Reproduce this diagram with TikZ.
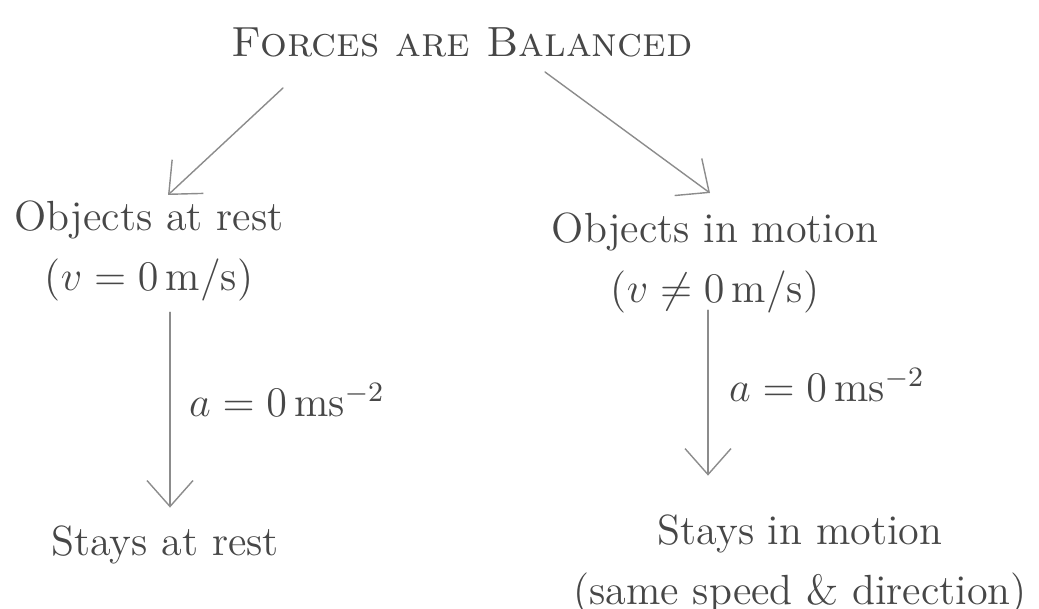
\documentclass[tikz,border=0pt]{standalone}
\usepackage{amsmath}
\usepackage{amssymb}
\usetikzlibrary{arrows.meta}

\begin{document}
\begin{tikzpicture}[x=1cm, y=1cm, line cap=round, >={Straight Barb[length=2.6mm,width=4.6mm]}]

\tikzset{txt/.style={text=black!72, font=\large, align=center, inner sep=1pt},
         arr/.style={->, draw=black!45, thin}}

\useasboundingbox (0,0) rectangle (10.39,6.09) ;

% the title and its two cases
\node[txt] (title) at (4.62,5.67) {\textsc{Forces are Balanced}} ;
\node[txt] (rest) at (1.49,3.58) {Objects at rest\\[3pt] ($v = 0\,$m/s)} ;
\node[txt] (motion) at (7.15,3.46) {Objects in motion\\[3pt] ($v \neq 0\,$m/s)} ;

\node[txt] (restend) at (1.65,0.64) {Stays at rest} ;
\node[txt] (motionend) at (8.0,0.44) {Stays in motion\\[3pt] (same speed \& direction)} ;

\node[txt, anchor=west] (resta) at (1.85,2.09) {$a = 0\,$ms$^{-2}$} ;
\node[txt, anchor=west] (motiona) at (7.25,2.24) {$a = 0\,$ms$^{-2}$} ;

\coordinate (tl) at (2.83,5.21) ;
\coordinate (tr) at (5.45,5.37) ;
\coordinate (lx) at (1.70,0) ;
\coordinate (rx) at (7.08,0) ;

\draw[arr] (tl) -- (1.68,4.14) ;
\draw[arr] (tr) -- (7.10,4.16) ;
\draw[arr] ([yshift=-2pt]rest.south -| lx) -- ([yshift=4pt]restend.north -| lx) ;
\draw[arr] ([yshift=2pt]motion.south -| rx) -- ([yshift=10pt]motionend.north -| rx) ;

\end{tikzpicture}
\end{document}
